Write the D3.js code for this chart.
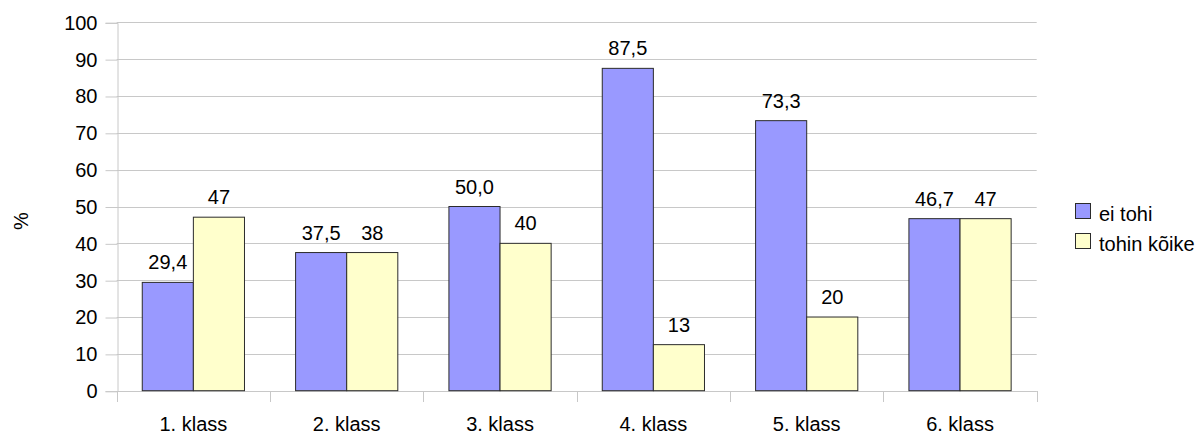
<!DOCTYPE html>
<html>
<head>
<meta charset="utf-8">
<script src="https://cdn.jsdelivr.net/npm/d3@7"></script>
<style>
  html, body { margin: 0; padding: 0; background: #fff; }
  svg { display: block; font-family: "Liberation Sans", Arial, sans-serif; }
</style>
</head>
<body>
<svg id="chart" width="1202" height="434"></svg>
<script>
// Categories, series and axis ticks
const categories = ["1. klass", "2. klass", "3. klass", "4. klass", "5. klass", "6. klass"];
const seriesNames = ["ei tohi", "tohin kõike"];
const eiTohi = [29.4, 37.5, 50.0, 87.5, 73.3, 46.7];
const tohinKoike = [47.1, 37.5, 40.0, 12.5, 20.0, 46.7];
const yTicks = [0, 10, 20, 30, 40, 50, 60, 70, 80, 90, 100];
const seriesColors = ["#9999ff", "#ffffcc"];
const labelDecimals = [1, 0];

const svg = d3.select("#chart");
const plot = { left: 116.7, right: 1036.7, top: 22.3, bottom: 390.7 };
const fontSize = 20;

const x = d3.scaleBand().domain(categories).range([plot.left, plot.right]).padding(0);
const inner = d3.scaleBand().domain(seriesNames)
  .range([x.bandwidth() / 6, x.bandwidth() * 5 / 6]).padding(0);
const y = d3.scaleLinear().domain([0, 100]).range([plot.bottom, plot.top]);

const gridColor = "#c8c8c8";

// Horizontal gridlines
svg.append("g").selectAll("line").data(yTicks).join("line")
  .attr("x1", plot.left).attr("x2", plot.right)
  .attr("y1", d => Math.round(y(d)) + 0.5).attr("y2", d => Math.round(y(d)) + 0.5)
  .attr("stroke", gridColor).attr("stroke-width", 1);

// Y axis
const yAxis = svg.append("g")
  .attr("transform", `translate(${Math.round(plot.left) + 0.5},0.5)`)
  .call(d3.axisLeft(y).tickValues(yTicks).tickSize(12).tickPadding(8).tickFormat(d3.format("d")));
yAxis.select(".domain").attr("stroke", gridColor);
yAxis.selectAll(".tick line").attr("stroke", gridColor);
yAxis.selectAll(".tick text").attr("fill", "#000").attr("font-size", fontSize)
  .attr("font-family", "Liberation Sans, Arial, sans-serif");

// X axis: ticks at category boundaries
const boundaries = categories.map(c => x(c)).concat([plot.right]);
svg.append("g").selectAll("line").data(boundaries).join("line")
  .attr("x1", d => Math.round(d) + 0.5).attr("x2", d => Math.round(d) + 0.5)
  .attr("y1", Math.round(plot.bottom)).attr("y2", Math.round(plot.bottom) + 11)
  .attr("stroke", gridColor);
svg.append("line")
  .attr("x1", plot.left).attr("x2", plot.right)
  .attr("y1", Math.round(plot.bottom) + 0.5).attr("y2", Math.round(plot.bottom) + 0.5)
  .attr("stroke", gridColor);
svg.append("g").selectAll("text").data(categories).join("text")
  .attr("x", d => x(d) + x.bandwidth() / 2)
  .attr("y", 430.5)
  .attr("text-anchor", "middle")
  .attr("font-size", fontSize)
  .text(d => d);

// Bars
const seriesData = [eiTohi, tohinKoike];
seriesNames.forEach((name, si) => {
  const vals = seriesData[si];
  const g = svg.append("g");
  g.selectAll("rect").data(vals).join("rect")
    .attr("x", (d, i) => x(categories[i]) + inner(name))
    .attr("y", d => y(d))
    .attr("width", inner.bandwidth())
    .attr("height", d => y(0) - y(d))
    .attr("fill", seriesColors[si])
    .attr("stroke", "#2b2b2b")
    .attr("stroke-width", 1);
  const fmt = v => d3.format(`.${labelDecimals[si]}f`)(v).replace(".", ",");
  g.selectAll("text").data(vals).join("text")
    .attr("x", (d, i) => x(categories[i]) + inner(name) + inner.bandwidth() / 2)
    .attr("y", d => y(d) - 13)
    .attr("text-anchor", "middle")
    .attr("font-size", fontSize)
    .text(fmt);
});

// Y axis title
svg.append("text")
  .attr("transform", "translate(28,221) rotate(-90)")
  .attr("text-anchor", "middle")
  .attr("font-size", fontSize)
  .text("%");

// Legend
const legend = svg.append("g");
seriesNames.forEach((name, i) => {
  const ly = 203 + i * 30;
  legend.append("rect")
    .attr("x", 1075.5).attr("y", ly + 0.5)
    .attr("width", 15).attr("height", 15)
    .attr("fill", seriesColors[i]).attr("stroke", "#2b2b2b");
  legend.append("text")
    .attr("x", 1099).attr("y", ly + 17.5)
    .attr("font-size", fontSize)
    .text(name);
});
</script>
</body>
</html>
